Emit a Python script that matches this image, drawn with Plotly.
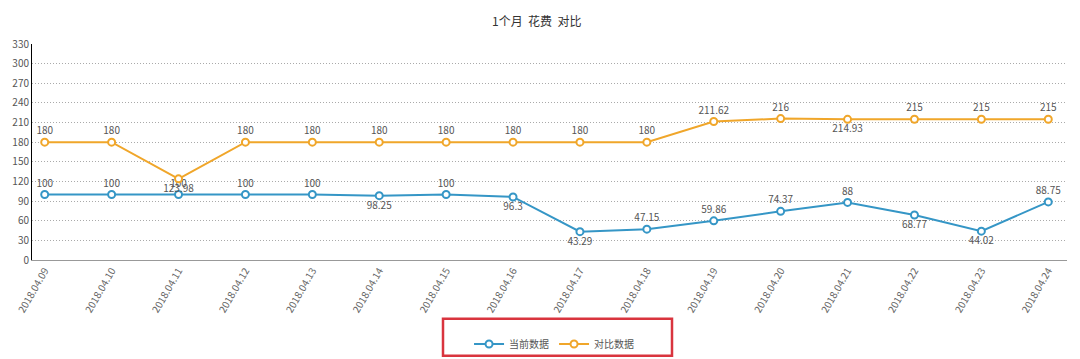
import plotly.graph_objects as go

dates = ["2018.04.09", "2018.04.10", "2018.04.11", "2018.04.12", "2018.04.13", "2018.04.14",
         "2018.04.15", "2018.04.16", "2018.04.17", "2018.04.18", "2018.04.19", "2018.04.20",
         "2018.04.21", "2018.04.22", "2018.04.23", "2018.04.24"]
current = [100, 100, 100, 100, 100, 98.25, 100, 96.3, 43.29, 47.15, 59.86, 74.37, 88, 68.77, 44.02, 88.75]
compare = [180, 180, 123.98, 180, 180, 180, 180, 180, 180, 180, 211.62, 216, 214.93, 215, 215, 215]
current_pos = ["top center", "top center", "top center", "top center", "top center", "bottom center",
               "top center", "bottom center", "bottom center", "top center", "top center", "top center",
               "top center", "bottom center", "bottom center", "top center"]
compare_pos = ["top center", "top center", "bottom center", "top center", "top center", "top center",
               "top center", "top center", "top center", "top center", "top center", "top center",
               "bottom center", "top center", "top center", "top center"]
yticks = list(range(0, 331, 30))

blue = "#3596c6"
orange = "#f0a62a"

def fmt(v):
    return ("%g" % v)

fig = go.Figure()
fig.add_trace(go.Scatter(
    x=dates, y=current, name="当前数据", mode="lines+markers+text",
    text=[fmt(v) for v in current], textposition=current_pos,
    textfont=dict(size=10, color="#555555"),
    line=dict(color=blue, width=2),
    marker=dict(symbol="circle", size=7, color="white", line=dict(color=blue, width=2)),
    cliponaxis=False,
))
fig.add_trace(go.Scatter(
    x=dates, y=compare, name="对比数据", mode="lines+markers+text",
    text=[fmt(v) for v in compare], textposition=compare_pos,
    textfont=dict(size=10, color="#555555"),
    line=dict(color=orange, width=2),
    marker=dict(symbol="circle", size=7, color="white", line=dict(color=orange, width=2)),
    cliponaxis=False,
))

fig.update_layout(
    width=1080, height=359,
    margin=dict(l=32, r=13, t=43.5, b=99, autoexpand=False),
    paper_bgcolor="white", plot_bgcolor="white",
    font=dict(family="Noto Sans CJK SC, sans-serif", size=10, color="#555555"),
    title=dict(text="1个月  花费  对比", x=0.497, xanchor="center", y=0.94, yanchor="middle",
               font=dict(size=12, color="#333333")),
    showlegend=True,
    legend=dict(orientation="h", x=0.513, xanchor="center", xref="container",
                y=(359 - 344) / 359, yanchor="middle", yref="container",
                font=dict(size=10, color="#555555"), itemwidth=30,
                bgcolor="rgba(0,0,0,0)"),
    xaxis=dict(type="category", range=[-0.19, 15.28], showgrid=False, automargin=False,
               showline=True, linecolor="#999999", linewidth=1,
               ticks="", tickangle=-60, tickfont=dict(size=10, color="#666666")),
    yaxis=dict(range=[0, 330], tickvals=yticks, showgrid=True, gridcolor="#aaaaaa",
               griddash="1px,2px", gridwidth=1, showline=True, linecolor="#000000", linewidth=1,
               zeroline=False, ticks="", automargin=False, tickfont=dict(size=10, color="#555555")),
    shapes=[dict(type="rect", xref="paper", yref="paper",
                 x0=(443 - 32) / 1035, x1=(672 - 32) / 1035,
                 y0=(260 - 356) / 216.5, y1=(260 - 319) / 216.5,
                 line=dict(color="#d9343e", width=2.5))],
)

fig.write_html("out.html")
